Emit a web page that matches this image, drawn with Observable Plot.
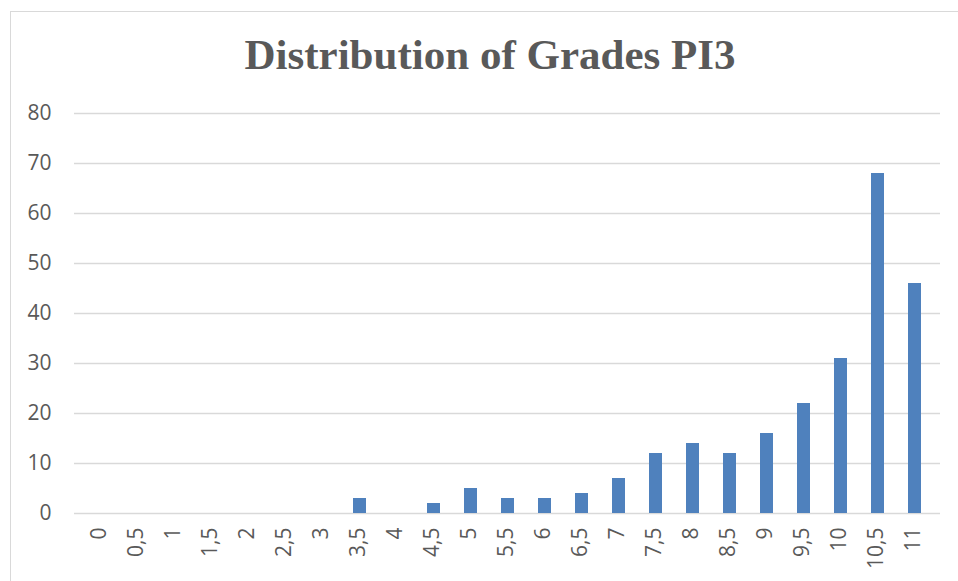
<!DOCTYPE html>
<html>
<head>
<meta charset="utf-8">
<script src="https://cdn.jsdelivr.net/npm/d3@7"></script>
<script src="https://cdn.jsdelivr.net/npm/@observablehq/plot@0.6"></script>
<style>
  html, body { margin: 0; padding: 0; background: #fff; overflow: hidden; }
  #frame { position: absolute; left: 10px; top: 11px; width: 1000px; height: 620px; border: 1px solid #D9D9D9; box-sizing: border-box; }
  #title { position: absolute; left: 0; width: 980px; top: 30px; text-align: center;
    font-family: "Liberation Serif", "Times New Roman", serif; font-weight: bold; font-size: 43px; color: #595959; line-height: 50px; }
  #chart { position: absolute; left: 0; top: 0; }
</style>
</head>
<body>
<div id="frame"></div>
<div id="title">Distribution of Grades PI3</div>
<div id="chart"></div>
<script>
const grades = ["0","0,5","1","1,5","2","2,5","3","3,5","4","4,5","5","5,5","6","6,5","7","7,5","8","8,5","9","9,5","10","10,5","11"];
const counts = [0,0,0,0,0,0,0,3,0,2,5,3,3,4,7,12,14,12,16,22,31,68,46];
const yTicks = [0,10,20,30,40,50,60,70,80];

const data = grades.map((g, i) => ({grade: g, count: counts[i]}));

const chart = Plot.plot({
  width: 958,
  height: 581,
  marginTop: 113,
  marginBottom: 68,
  marginLeft: 74,
  marginRight: 18,
  style: {fontFamily: "'Open Sans', sans-serif", fontSize: "21px", color: "#595959", background: "transparent"},
  x: {domain: grades, paddingInner: 0.66, paddingOuter: 0.33, label: null},
  y: {domain: [0, 80], label: null},
  marks: [
    Plot.gridY(yTicks, {stroke: "#D9D9D9", strokeOpacity: 1, strokeWidth: 1.3}),
    Plot.axisY(yTicks, {tickSize: 0, tickPadding: 23, fill: "#595959", label: null}),
    Plot.axisX({tickSize: 0, tickPadding: 14, tickRotate: -90, fill: "#595959", label: null, dx: -2}),
    Plot.barY(data, {x: "grade", y: "count", fill: "#4F81BD"})
  ]
});
document.getElementById("chart").appendChild(chart);
</script>
</body>
</html>
